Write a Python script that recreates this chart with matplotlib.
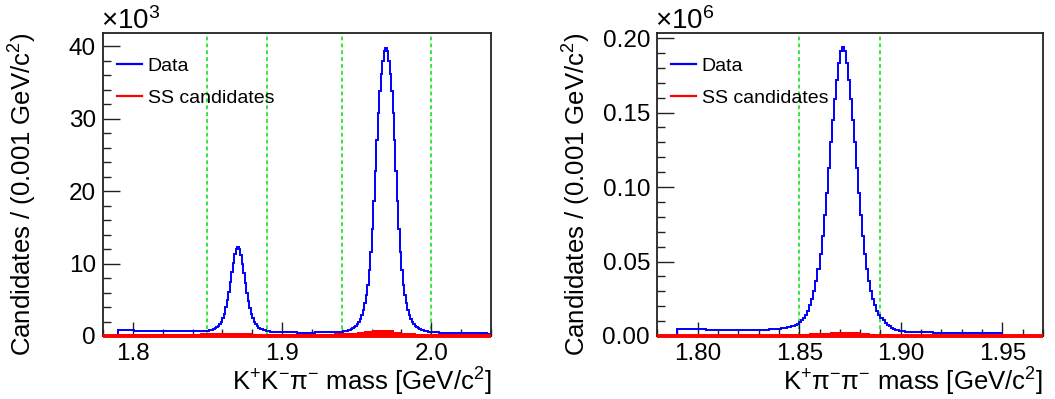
import numpy as np
import matplotlib
matplotlib.use("Agg")
import matplotlib.pyplot as plt
from matplotlib.lines import Line2D
from matplotlib.ticker import MultipleLocator, FuncFormatter

plt.rcParams['font.family'] = ['Liberation Sans', 'DejaVu Sans']
plt.rcParams['mathtext.fontset'] = 'custom'
plt.rcParams['mathtext.rm'] = 'Liberation Sans'
plt.rcParams['mathtext.it'] = 'Liberation Sans'
plt.rcParams['mathtext.default'] = 'regular'

# ---------------- data (counts in thousands per 0.001 GeV bin) ----------------
kkpi_start = 1.790
kkpi_bin = 0.001
kkpi_data = [
    0.80, 0.79, 0.79, 0.78, 0.78, 0.77, 0.77, 0.77, 0.76, 0.76,
    0.76, 0.75, 0.75, 0.75, 0.74, 0.74, 0.74, 0.73, 0.73, 0.73,
    0.72, 0.72, 0.72, 0.71, 0.71, 0.71, 0.70, 0.70, 0.70, 0.69,
    0.69, 0.69, 0.68, 0.68, 0.68, 0.67, 0.67, 0.67, 0.66, 0.66,
    0.66, 0.66, 0.65, 0.65, 0.65, 0.65, 0.65, 0.65, 0.66, 0.66,
    0.66, 0.66, 0.67, 0.67, 0.68, 0.68, 0.69, 0.70, 0.71, 0.73,
    0.75, 0.78, 0.82, 0.88, 0.95, 1.05, 1.18, 1.35, 1.60, 1.95,
    2.45, 3.10, 3.95, 5.00, 6.10, 7.40, 8.80, 10.1, 11.3, 12.0,
    12.3, 12.0, 11.2, 10.0, 8.70, 7.30, 6.00, 4.90, 3.90, 3.10,
    2.45, 1.95, 1.60, 1.35, 1.15, 1.00, 0.90, 0.82, 0.76, 0.71,
    0.67, 0.64, 0.61, 0.59, 0.57, 0.56, 0.55, 0.54, 0.53, 0.52,
    0.52, 0.51, 0.51, 0.50, 0.50, 0.50, 0.49, 0.49, 0.49, 0.49,
    0.48, 0.48, 0.48, 0.48, 0.48, 0.48, 0.48, 0.48, 0.48, 0.48,
    0.48, 0.48, 0.49, 0.49, 0.49, 0.50, 0.50, 0.50, 0.51, 0.51,
    0.52, 0.53, 0.53, 0.54, 0.55, 0.55, 0.56, 0.57, 0.58, 0.59,
    0.62, 0.66, 0.70, 0.75, 0.81, 0.89, 0.98, 1.10, 1.24, 1.42,
    1.65, 1.95, 2.35, 2.90, 3.60, 4.50, 5.60, 7.10, 9.10, 11.6,
    14.8, 18.6, 22.8, 27.0, 30.8, 33.8, 36.2, 38.0, 39.3, 39.8,
    39.3, 38.0, 36.2, 33.8, 30.8, 27.0, 22.8, 18.6, 14.8, 11.6,
    9.10, 7.10, 5.60, 4.50, 3.60, 2.90, 2.35, 1.95, 1.65, 1.42,
    1.24, 1.10, 0.98, 0.89, 0.81, 0.75, 0.70, 0.66, 0.62, 0.59,
    0.56, 0.54, 0.52, 0.50, 0.49, 0.48, 0.47, 0.46, 0.45, 0.44,
    0.43, 0.43, 0.42, 0.42, 0.41, 0.41, 0.40, 0.40, 0.40, 0.39,
    0.39, 0.39, 0.38, 0.38, 0.38, 0.37, 0.37, 0.37, 0.37, 0.36,
    0.36, 0.36, 0.36, 0.35, 0.35, 0.35, 0.35, 0.34, 0.34, 0.34,
]
# same-sign candidates (thousands), coarser 0.005 GeV steps
kkpi_ss_bin = 0.005
kkpi_ss = [
    0.32, 0.32, 0.32, 0.32, 0.32, 0.32, 0.32, 0.32, 0.32, 0.32,
    0.33, 0.35, 0.38, 0.42, 0.45, 0.45, 0.41, 0.37, 0.34, 0.33,
    0.32, 0.32, 0.32, 0.32, 0.32, 0.32, 0.33, 0.33, 0.34, 0.35,
    0.37, 0.42, 0.52, 0.66, 0.80, 0.86, 0.76, 0.60, 0.46, 0.38,
    0.34, 0.32, 0.31, 0.30, 0.30, 0.29, 0.29, 0.28, 0.28, 0.28,
]
kkpi_cuts = [1.85, 1.89, 1.94, 2.00]

kpipi_start = 1.790
kpipi_bin = 0.001
kpipi_data = [
    4.5, 4.5, 4.5, 4.5, 4.5, 4.4, 4.4, 4.4, 4.4, 4.4,
    4.4, 4.4, 4.4, 4.4, 4.3, 4.3, 4.3, 4.3, 4.3, 4.3,
    4.3, 4.3, 4.3, 4.3, 4.2, 4.2, 4.2, 4.2, 4.2, 4.2,
    4.2, 4.2, 4.2, 4.2, 4.2, 4.2, 4.2, 4.2, 4.2, 4.2,
    4.2, 4.2, 4.2, 4.3, 4.3, 4.4, 4.4, 4.5, 4.6, 4.7,
    4.9, 5.1, 5.3, 5.5, 5.8, 6.1, 6.5, 7.0, 7.6, 8.3,
    9.2, 10.5, 12.2, 14.3, 17.0, 20.5, 25.0, 30.5, 37.0, 45.0,
    55.0, 67.0, 81.0, 96.0, 113.0, 130.0, 145.0, 159.0, 172.0, 183.0,
    191.0, 194.0, 191.0, 183.0, 172.0, 159.0, 145.0, 130.0, 113.0, 96.0,
    81.0, 67.0, 55.0, 45.0, 37.0, 30.5, 25.0, 20.5, 17.0, 14.3,
    12.2, 10.5, 8.8, 7.5, 6.4, 5.5, 4.8, 4.2, 3.8, 3.5,
    3.3, 3.1, 3.0, 2.9, 2.8, 2.7, 2.65, 2.6, 2.55, 2.5,
    2.45, 2.45, 2.4, 2.4, 2.35, 2.35, 2.3, 2.3, 2.3, 2.25,
    2.25, 2.2, 2.2, 2.2, 2.15, 2.15, 2.15, 2.1, 2.1, 2.1,
    2.1, 2.05, 2.05, 2.05, 2.05, 2.0, 2.0, 2.0, 2.0, 2.0,
    2.0, 2.0, 2.0, 2.0, 2.0, 2.0, 2.0, 2.0, 2.0, 2.0,
]
kpipi_ss_bin = 0.005
kpipi_ss = [
    1.0, 1.0, 1.0, 1.0, 1.0, 1.0, 1.0, 1.0, 1.0, 1.0,
    1.1, 1.2, 1.4, 1.8, 2.3, 2.7, 2.8, 2.5, 1.9, 1.4,
    1.1, 1.0, 0.9, 0.9, 0.9, 0.8, 0.8, 0.8, 0.8, 0.7,
    0.7, 0.7,
]
kpipi_cuts = [1.85, 1.89]

# ---------------- figure ----------------
W, H = 1055, 399
fig = plt.figure(figsize=(W / 100, H / 100), dpi=100)

def fx(px):
    return px / W

def fy(py):
    return 1 - py / H

axL = fig.add_axes([fx(103), fy(336), fx(491) - fx(103), fy(33) - fy(336)])
axR = fig.add_axes([fx(657), fy(336), fx(1043) - fx(657), fy(33) - fy(336)])

BLUE = '#0000ff'
RED = '#ff0000'
GREEN = '#00e000'


def draw(ax, start, binw, data, ss_binw, ss, cuts, scale, xlim, ylim):
    data = np.asarray(data) * scale
    ss = np.asarray(ss) * scale
    edges = start + binw * np.arange(len(data) + 1)
    ss_edges = start + ss_binw * np.arange(len(ss) + 1)
    for c in cuts:
        ax.axvline(c, color=GREEN, lw=1.1, ls=(0, (2.5, 2)), zorder=1)
    ax.stairs(data, edges, baseline=0, color=BLUE, lw=1.4, zorder=3)
    ax.stairs(ss, ss_edges, baseline=0, fill=True, color=RED, lw=0, zorder=4)
    ax.plot(xlim, [0, 0], color=RED, lw=2.8, zorder=5, clip_on=False,
            solid_capstyle='butt')
    ax.set_xlim(*xlim)
    ax.set_ylim(*ylim)
    for s in ax.spines.values():
        s.set_linewidth(1.3)
        s.set_color('#222222')
    ax.tick_params(which='both', direction='in', top=False, right=False,
                   labelsize=17.5, width=1.0, color='#222222')
    ax.tick_params(axis='y', which='major', length=12, pad=5)
    ax.tick_params(axis='y', which='minor', length=6)
    ax.tick_params(axis='x', which='major', length=10, pad=5)
    ax.tick_params(axis='x', which='minor', length=5)
    handles = [Line2D([], [], color=BLUE, lw=1.6),
               Line2D([], [], color=RED, lw=1.6)]
    ax.legend(handles, ['Data', 'SS candidates'], loc='upper left',
              bbox_to_anchor=(0.0, 0.965), frameon=False, fontsize=14,
              handlelength=1.3, handletextpad=0.3, labelspacing=0.75,
              borderaxespad=0.3)


draw(axL, kkpi_start, kkpi_bin, kkpi_data, kkpi_ss_bin, kkpi_ss, kkpi_cuts,
     1.0, (1.78, 2.04), (0, 41.84))
axL.xaxis.set_major_locator(MultipleLocator(0.1))
axL.xaxis.set_minor_locator(MultipleLocator(0.02))
axL.xaxis.set_major_formatter(FuncFormatter(lambda v, p: f'{v:.1f}'))
axL.yaxis.set_major_locator(MultipleLocator(10))
axL.yaxis.set_minor_locator(MultipleLocator(2))
axL.yaxis.set_major_formatter(FuncFormatter(lambda v, p: f'{v:.0f}'))

draw(axR, kpipi_start, kpipi_bin, kpipi_data, kpipi_ss_bin, kpipi_ss, kpipi_cuts,
     0.001, (1.78, 1.97), (0, 0.2034))
axR.xaxis.set_major_locator(MultipleLocator(0.05))
axR.xaxis.set_minor_locator(MultipleLocator(0.01))
axR.xaxis.set_major_formatter(FuncFormatter(lambda v, p: f'{v:.2f}'))
axR.yaxis.set_major_locator(MultipleLocator(0.05))
axR.yaxis.set_minor_locator(MultipleLocator(0.01))
axR.yaxis.set_major_formatter(FuncFormatter(lambda v, p: f'{v:.2f}'))

ylab = r'Candidates / (0.001 GeV/c$^{2}$)'
fig.text(fx(23), fy(33), ylab, rotation=90, ha='center', va='top', fontsize=18.5)
fig.text(fx(577), fy(33), ylab, rotation=90, ha='center', va='top', fontsize=18.5)
fig.text(fx(491), fy(391), r'K$^{+}$K$^{-}$π$^{-}$ mass [GeV/c$^{2}$]',
         ha='right', va='baseline', fontsize=18.5)
fig.text(fx(1043), fy(391), r'K$^{+}$π$^{-}$π$^{-}$ mass [GeV/c$^{2}$]',
         ha='right', va='baseline', fontsize=18.5)
fig.text(fx(101), fy(29), r'$\times$10$^{3}$', ha='left', va='baseline', fontsize=20)
fig.text(fx(655), fy(29), r'$\times$10$^{6}$', ha='left', va='baseline', fontsize=20)

fig.savefig('out.png', dpi=100)
